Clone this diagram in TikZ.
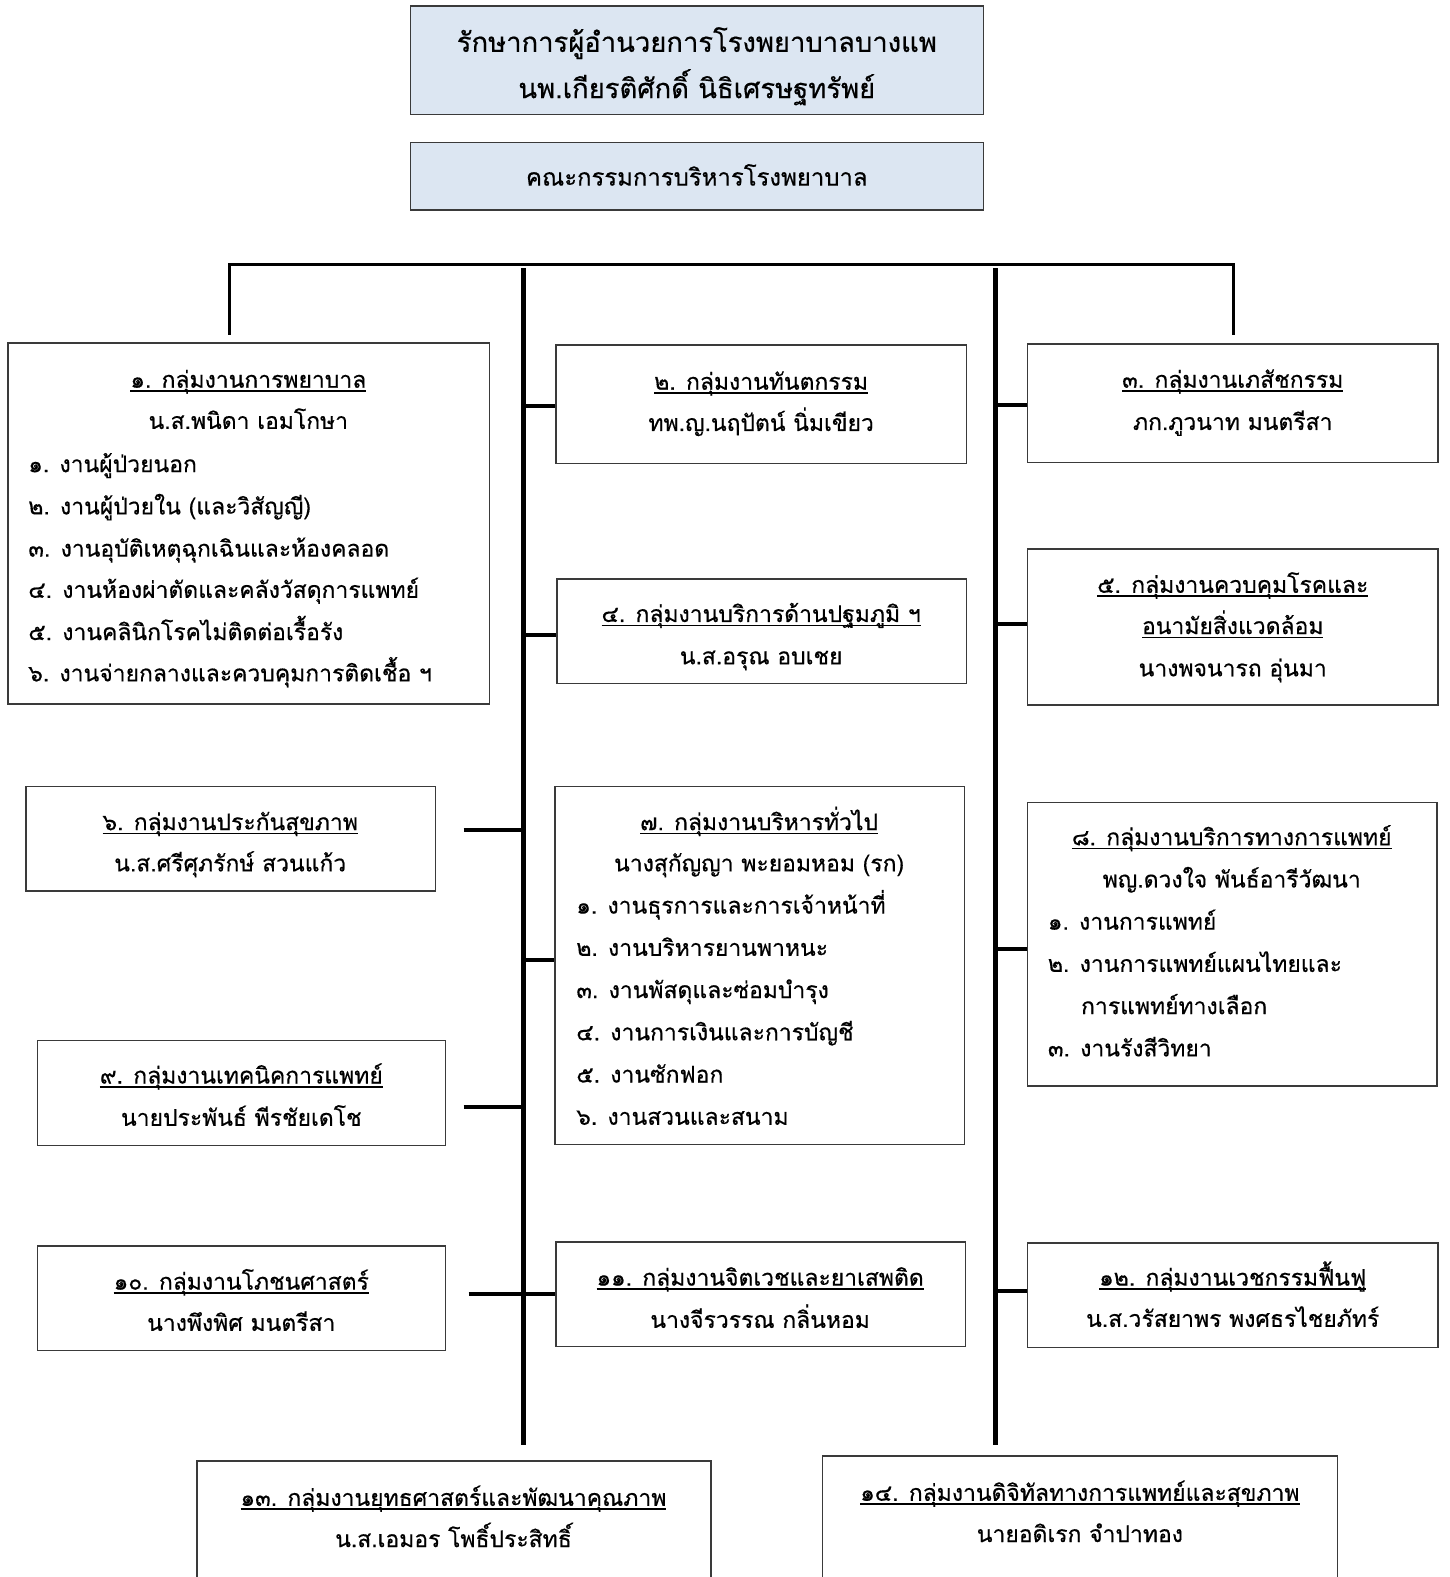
\documentclass[tikz,border=0pt]{standalone}
\usepackage{fontspec}
\usetikzlibrary{fit}
\newfontfamily\thaifont[Script=Thai,FakeBold=0.5]{Loma}
\definecolor{boxblue}{HTML}{DCE6F2}
\definecolor{edge}{HTML}{3A3A3A}
\newcommand\thul[1]{\setbox0=\hbox{#1}\rlap{\rule[-4pt]{\wd0}{1.4pt}}\box0}
\begin{document}
\begin{tikzpicture}[x=1.0055bp,y=-1.0055bp,
  box/.style={draw=edge, line width=1.4bp, inner sep=0pt, fill=white},
  topbox/.style={box, fill=boxblue},
  tx/.style={font={\thaifont\fontsize{23}{28}\selectfont}, inner sep=0pt, anchor=mid, yshift=-7.5bp},
  txl/.style={tx, anchor=mid west},
  big/.style={font={\thaifont\fontsize{27.5}{32}\selectfont}},
  mid24/.style={font={\thaifont\fontsize{24}{28}\selectfont}},
  thinline/.style={line width=3bp},
  conn/.style={line width=4bp},
  spine/.style={line width=5bp}]
\useasboundingbox (0,0) rectangle (1442.07,1568.38);
% boxes
\node[topbox, fit={(408,6) (978,114)}] (dir) {};
\node[topbox, fit={(408,142) (978,209)}] (com) {};
\node[box, fit={(8,341) (487,700)}] (b1) {};
\node[box, fit={(553,343) (961,461)}] (b2) {};
\node[box, fit={(1022,342) (1430,460)}] (b3) {};
\node[box, fit={(554,576) (961,680)}] (b4) {};
\node[box, fit={(1022,546) (1430,701)}] (b5) {};
\node[box, fit={(26,782) (433,886)}] (b6) {};
\node[box, fit={(552,782) (959,1138)}] (b7) {};
\node[box, fit={(1022,798) (1429,1080)}] (b8) {};
\node[box, fit={(37,1035) (443,1139)}] (b9) {};
\node[box, fit={(37,1239) (443,1343)}] (b10) {};
\node[box, fit={(553,1235) (960,1339)}] (b11) {};
\node[box, fit={(1022,1236) (1430,1340)}] (b12) {};
\node[box, fit={(196,1453) (707,1600)}] (b13) {};
\node[box, fit={(818,1448) (1330,1600)}] (b14) {};
% skeleton
\coordinate (hl) at (228,263);
\coordinate (hr) at (1227,263);
\coordinate (t1) at (228,333);
\coordinate (t3) at (1227,333);
\coordinate (s1t) at (521,267);
\coordinate (s1b) at (521,1437);
\coordinate (s2t) at (990,267);
\coordinate (s2b) at (990,1437);
\coordinate (c6) at (461,825);
\coordinate (c9) at (461,1101);
\coordinate (c10) at (466,1287);
\draw[thinline] (t1) -- (hl) -- (hr) -- (t3);
\draw[spine] (s1t) -- (s1b);
\draw[spine] (s2t) -- (s2b);
\draw[conn] (s1t |- 0,404) -- (b2.west |- 0,404);
\draw[conn] (s1t |- 0,632) -- (b4.west |- 0,632);
\draw[conn] (s1t |- 0,955) -- (b7.west |- 0,955);
\draw[conn] (c6) -- (s1t |- c6);
\draw[conn] (c9) -- (s1t |- c9);
\draw[conn] (c10) -- (b11.west |- c10);
\draw[conn] (s2t |- 0,403) -- (b3.west |- 0,403);
\draw[conn] (s2t |- 0,621) -- (b5.west |- 0,621);
\draw[conn] (s2t |- 0,944) -- (b8.west |- 0,944);
\draw[conn] (s2t |- 0,1284) -- (b12.west |- 0,1284);
% texts
\node[tx, big] (d1) at (693,42) {รักษาการผู้อำนวยการโรงพยาบาลบางแพ};
\node[tx, big] (d2) at (693,88) {นพ.เกียรติศักดิ์ นิธิเศรษฐทรัพย์};
\node[tx, mid24] (c1) at (693,175) {คณะกรรมการบริหารโรงพยาบาล};
%
\node[tx] (h1) at (247,376) {\thul{๑. กลุ่มงานการพยาบาล}};
\node[tx] (n1) at (247,417) {น.ส.พนิดา เอมโกษา};
\node[txl] (i11) at (28,460) {๑. งานผู้ป่วยนอก};
\node[txl] (i12) at (28,502) {๒. งานผู้ป่วยใน (และวิสัญญี)};
\node[txl] (i13) at (28,544) {๓. งานอุบัติเหตุฉุกเฉินและห้องคลอด};
\node[txl] (i14) at (28,585) {๔. งานห้องผ่าตัดและคลังวัสดุการแพทย์};
\node[txl] (i15) at (28,627) {๕. งานคลินิกโรคไม่ติดต่อเรื้อรัง};
\node[txl] (i16) at (28,668) {๖. งานจ่ายกลางและควบคุมการติดเชื้อ ฯ};
%
\node[tx] (h2) at (757,378) {\thul{๒. กลุ่มงานทันตกรรม}};
\node[tx] (n2) at (757,419) {ทพ.ญ.นฤปัตน์ นิ่มเขียว};
\node[tx] (h3) at (1226,376) {\thul{๓. กลุ่มงานเภสัชกรรม}};
\node[tx] (n3) at (1226,418) {ภก.ภูวนาท มนตรีสา};
\node[tx] (h4) at (757,609) {\thul{๔. กลุ่มงานบริการด้านปฐมภูมิ ฯ}};
\node[tx] (n4) at (757,651) {น.ส.อรุณ อบเชย};
\node[tx] (h5) at (1226,580) {\thul{๕. กลุ่มงานควบคุมโรคและ}};
\node[tx] (h5b) at (1226,621) {\thul{อนามัยสิ่งแวดล้อม}};
\node[tx] (n5) at (1226,663) {นางพจนารถ อุ่นมา};
\node[tx] (h6) at (229,816) {\thul{๖. กลุ่มงานประกันสุขภาพ}};
\node[tx] (n6) at (229,857) {น.ส.ศรีศุภรักษ์ สวนแก้ว};
%
\node[tx] (h7) at (755,816) {\thul{๗. กลุ่มงานบริหารทั่วไป}};
\node[tx] (n7) at (755,857) {นางสุกัญญา พะยอมหอม (รก)};
\node[txl] (i71) at (573,899) {๑. งานธุรการและการเจ้าหน้าที่};
\node[txl] (i72) at (573,941) {๒. งานบริหารยานพาหนะ};
\node[txl] (i73) at (573,983) {๓. งานพัสดุและซ่อมบำรุง};
\node[txl] (i74) at (573,1025) {๔. งานการเงินและการบัญชี};
\node[txl] (i75) at (573,1067) {๕. งานซักฟอก};
\node[txl] (i76) at (573,1109) {๖. งานสวนและสนาม};
%
\node[tx] (h8) at (1225,831) {\thul{๘. กลุ่มงานบริการทางการแพทย์}};
\node[tx] (n8) at (1225,873) {พญ.ดวงใจ พันธ์อารีวัฒนา};
\node[txl] (i81) at (1042,915) {๑. งานการแพทย์};
\node[txl] (i82) at (1042,957) {๒. งานการแพทย์แผนไทยและ};
\node[txl] (i82b) at (1075,999) {การแพทย์ทางเลือก};
\node[txl] (i83) at (1042,1041) {๓. งานรังสีวิทยา};
%
\node[tx] (h9) at (240,1068) {\thul{๙. กลุ่มงานเทคนิคการแพทย์}};
\node[tx] (n9) at (240,1110) {นายประพันธ์ พีรชัยเดโช};
\node[tx] (h10) at (240,1273) {\thul{๑๐. กลุ่มงานโภชนศาสตร์}};
\node[tx] (n10) at (240,1314) {นางพึงพิศ มนตรีสา};
\node[tx] (h11) at (756,1269) {\thul{๑๑. กลุ่มงานจิตเวชและยาเสพติด}};
\node[tx] (n11) at (756,1311) {นางจีรวรรณ กลิ่นหอม};
\node[tx] (h12) at (1226,1269) {\thul{๑๒. กลุ่มงานเวชกรรมฟื้นฟู}};
\node[tx] (n12) at (1226,1310) {น.ส.วรัสยาพร พงศธรไชยภัทร์};
\node[tx] (h13) at (451,1488) {\thul{๑๓. กลุ่มงานยุทธศาสตร์และพัฒนาคุณภาพ}};
\node[tx] (n13) at (451,1529) {น.ส.เอมอร โพธิ์ประสิทธิ์};
\node[tx] (h14) at (1074,1483) {\thul{๑๔. กลุ่มงานดิจิทัลทางการแพทย์และสุขภาพ}};
\node[tx] (n14) at (1074,1524) {นายอดิเรก จำปาทอง};
\end{tikzpicture}
\end{document}
